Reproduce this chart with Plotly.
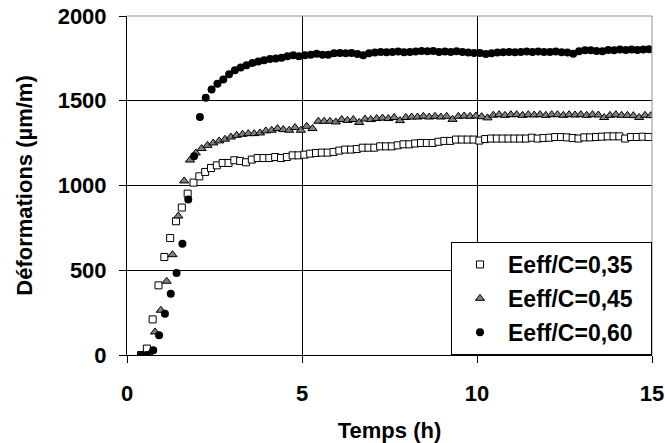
import plotly.graph_objects as go

# Measurement times (minutes after mixing) for each mix
temps_035_min = [24, 34, 44, 54, 64, 74, 84, 94, 104, 114, 124, 134, 144, 154, 164, 174, 184, 194, 204, 214,
                 224, 234, 244, 254, 264, 274, 284, 294, 304, 314, 324, 334, 344, 354, 364, 374, 384, 394, 404, 414,
                 424, 434, 444, 454, 464, 474, 484, 494, 504, 514, 524, 534, 544, 554, 564, 574, 584, 594, 604, 614,
                 624, 634, 644, 654, 664, 674, 684, 694, 704, 714, 724, 734, 744, 754, 764, 774, 784, 794, 804, 814,
                 824, 834, 844, 854, 864, 874, 884, 894]
temps_045_min = [28, 38, 48, 58, 68, 78, 88, 98, 108, 118, 128, 138, 148, 158, 168, 178, 188, 198, 208, 218,
                 228, 238, 248, 258, 268, 278, 288, 298, 308, 318, 328, 338, 348, 358, 368, 378, 388, 398, 408, 418,
                 428, 438, 448, 458, 468, 478, 488, 498, 508, 518, 528, 538, 548, 558, 568, 578, 588, 598, 608, 618,
                 628, 638, 648, 658, 668, 678, 688, 698, 708, 718, 728, 738, 748, 758, 768, 778, 788, 798, 808, 818,
                 828, 838, 848, 858, 868, 878, 888, 898]
temps_060_min = [25, 35, 45, 55, 65, 75, 85, 95, 105, 115, 125, 135, 145, 155, 165, 175, 185, 195, 205, 215,
                 225, 235, 245, 255, 265, 275, 285, 295, 305, 315, 325, 335, 345, 355, 365, 375, 385, 395, 405, 415,
                 425, 435, 445, 455, 465, 475, 485, 495, 505, 515, 525, 535, 545, 555, 565, 575, 585, 595, 605, 615,
                 625, 635, 645, 655, 665, 675, 685, 695, 705, 715, 725, 735, 745, 755, 765, 775, 785, 795, 805, 815,
                 825, 835, 845, 855, 865, 875, 885, 895]

# Strains (µm/m)
def_035 = [0, 38, 210, 411, 578, 690, 789, 870, 952, 1017,
           1054, 1080, 1103, 1119, 1133, 1133,
           1149, 1145, 1137, 1153, 1162, 1162,
           1162, 1168, 1162, 1168, 1178, 1178,
           1182, 1188, 1192, 1194, 1194,
           1198, 1206, 1212, 1212, 1215, 1223, 1223, 1223, 1231, 1231, 1231, 1237, 1243, 1243, 1248,
           1251, 1251, 1251, 1258, 1263, 1263, 1271, 1271, 1271, 1271, 1265, 1274, 1277, 1277, 1277,
           1277, 1277, 1277, 1277, 1282, 1277, 1280, 1282, 1286, 1286, 1284, 1280, 1277, 1284, 1284,
           1286, 1288, 1290, 1290, 1290, 1277, 1286, 1286, 1288, 1286]
def_045 = [0, 5, 136, 264, 435, 592, 820, 1027, 1150, 1192,
           1218, 1237, 1251, 1263, 1273, 1286,
           1296, 1302, 1306, 1306, 1310, 1322,
           1326, 1336, 1330, 1326, 1342, 1326,
           1349, 1336, 1379, 1379, 1379,
           1375, 1389, 1384, 1389, 1372, 1392, 1389, 1395, 1398, 1395, 1401, 1383, 1401, 1404, 1404,
           1408, 1404, 1408, 1404, 1408, 1390, 1408, 1410, 1408, 1410, 1406, 1399, 1415, 1418, 1414,
           1418, 1418, 1414, 1418, 1416, 1418, 1414, 1418, 1418, 1414, 1418, 1416, 1418, 1414, 1418,
           1416, 1401, 1414, 1418, 1414, 1414, 1412, 1401, 1414, 1412]
def_060 = [0, 0, 28, 116, 244, 362, 484, 657, 917, 1172,
           1404, 1518, 1566, 1601, 1626, 1656,
           1680, 1696, 1709, 1723, 1731, 1739,
           1746, 1750, 1754, 1762, 1768, 1762,
           1768, 1772, 1778, 1772, 1772,
           1780, 1782, 1780, 1782, 1776, 1768, 1780, 1784, 1788, 1786, 1788, 1790, 1786, 1788, 1790,
           1794, 1792, 1794, 1788, 1790, 1788, 1792, 1788, 1784, 1782, 1782, 1776, 1780, 1784, 1786,
           1788, 1786, 1788, 1790, 1788, 1790, 1788, 1788, 1790, 1786, 1784, 1778, 1792, 1798, 1798,
           1794, 1792, 1800, 1798, 1802, 1800, 1802, 1800, 1802, 1804]

series_names = ["Eeff/C=0,35", "Eeff/C=0,45", "Eeff/C=0,60"]
x_ticks = [0, 5, 10, 15]
y_ticks = [0, 500, 1000, 1500, 2000]

FONT = "Liberation Sans, Arial, sans-serif"
PAD = "\u00a0\u00a0"  # extra room at the right of legend labels

fig = go.Figure()
fig.add_trace(go.Scatter(
    x=[m / 60 for m in temps_035_min], y=def_035, mode="markers", name=series_names[0] + PAD,
    legendgroup="a",
    marker=dict(symbol="square", size=7, color="white", line=dict(color="black", width=1)),
))
fig.add_trace(go.Scatter(
    x=[m / 60 for m in temps_045_min], y=def_045, mode="markers", name=series_names[1] + PAD,
    legendgroup="b",
    marker=dict(symbol="triangle-up", size=8, color="#808080", line=dict(color="black", width=1)),
))
fig.add_trace(go.Scatter(
    x=[m / 60 for m in temps_060_min], y=def_060, mode="markers", name=series_names[2] + PAD,
    legendgroup="c",
    marker=dict(symbol="circle", size=8, color="black", line=dict(color="black", width=0)),
))

axis_font = dict(family=FONT, size=22, color="black", weight="bold")

fig.update_layout(
    template="none",
    width=665, height=443,
    margin=dict(l=127, r=13, t=16, b=88, autoexpand=False),
    paper_bgcolor="white", plot_bgcolor="white",
    font=dict(family=FONT, color="black"),
    showlegend=True,
    legend=dict(
        x=1, xanchor="right", y=0, yanchor="bottom",
        bgcolor="white", bordercolor="black", borderwidth=1,
        font=dict(family=FONT, size=23, color="black", weight="bold"),
        tracegroupgap=1, itemwidth=46,
    ),
    xaxis=dict(
        range=[0, 15], tickvals=x_ticks, ticktext=[str(v) for v in x_ticks],
        automargin=False,
        showgrid=True, gridcolor="black", gridwidth=1,
        showline=True, linecolor="black", linewidth=1,
        ticks="outside", ticklen=7, tickcolor="black", ticklabelstandoff=12,
        tickfont=axis_font, zeroline=False,
        title=dict(text="Temps (h)", font=axis_font, standoff=19),
    ),
    yaxis=dict(
        range=[0, 2000], tickvals=y_ticks, ticktext=[str(v) for v in y_ticks],
        automargin=False,
        showgrid=True, gridcolor="black", gridwidth=1,
        showline=True, linecolor="black", linewidth=1,
        ticks="outside", ticklen=7, tickcolor="black", ticklabelstandoff=8,
        tickfont=axis_font, zeroline=False,
        title=dict(text="Déformations (µm/m)", font=axis_font, standoff=18),
    ),
    shapes=[dict(type="path", xref="paper", yref="paper", path="M 0,1 L 1,1 L 1,0",
                 line=dict(color="#909090", width=1), layer="above")],
)

fig.write_html(
    "out.html",
    config={"displayModeBar": False},
    post_script="document.body.style.margin='0';document.body.style.overflow='hidden';",
)
